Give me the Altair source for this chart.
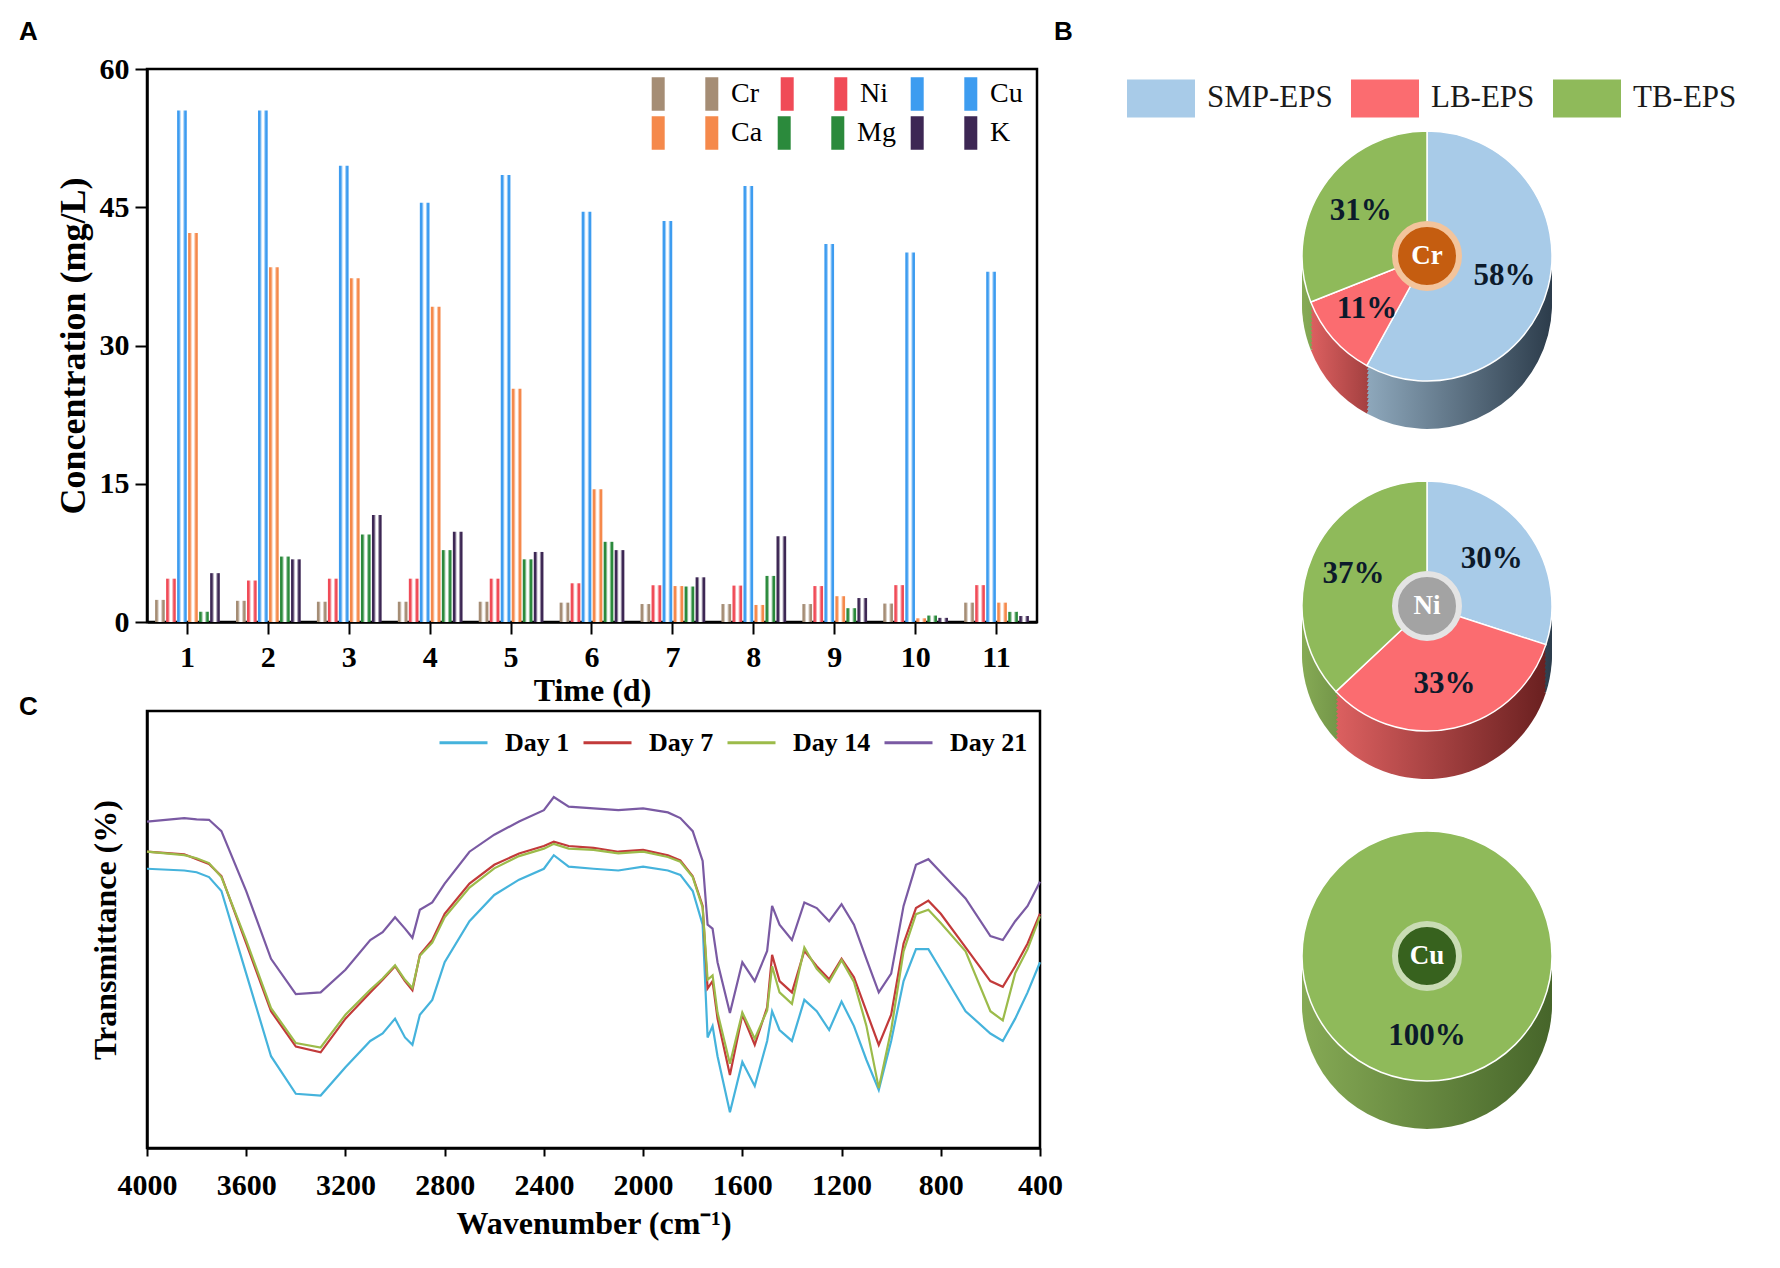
import altair as alt
import pandas as pd

SERIF = "Liberation Serif"
SANS = "Liberation Sans"

# ---------------- Panel A data ----------------
days = [str(d) for d in range(1, 12)]
series = ["Cr", "Ni", "Cu", "Ca", "Mg", "K"]
series_colors = ["#a58d75", "#f04b57", "#3d9cf0", "#f5894b", "#2b8a3c", "#3d2754"]
cr = [2.4, 2.3, 2.2, 2.2, 2.2, 2.1, 1.95, 1.95, 1.95, 2.0, 2.1]
ni = [4.7, 4.5, 4.7, 4.7, 4.7, 4.2, 4.0, 3.95, 3.9, 4.0, 4.0]
cu = [55.5, 55.5, 49.5, 45.5, 48.5, 44.5, 43.5, 47.3, 41.0, 40.1, 38.0]
ca = [42.2, 38.5, 37.3, 34.2, 25.3, 14.4, 3.9, 1.85, 2.8, 0.4, 2.1]
mg = [1.1, 7.1, 9.5, 7.8, 6.8, 8.7, 3.85, 5.0, 1.5, 0.7, 1.1]
k_ = [5.3, 6.8, 11.6, 9.8, 7.6, 7.8, 4.85, 9.3, 2.6, 0.45, 0.65]
conc = {"Cr": cr, "Ni": ni, "Cu": cu, "Ca": ca, "Mg": mg, "K": k_}
y_ticks_a = [0, 15, 30, 45, 60]

# ---------------- Panel B data ----------------
metals = ["Cr", "Ni", "Cu"]
fractions = ["SMP-EPS", "LB-EPS", "TB-EPS"]
smp = [58, 30, 0]
lb = [11, 33, 0]
tb = [31, 37, 100]
top_colors = ["#a8cbe8", "#fb6c70", "#8fba5a"]
side_colors = {"SMP-EPS": ("#8ea8bc", "#2c3c4b"),
               "LB-EPS": ("#dc6060", "#6a2020"),
               "TB-EPS": ("#86aa55", "#46652a")}
badge_inner = ["#c55d10", "#a3a3a3", "#37621e"]
badge_ring = ["#f3c49c", "#e4e4e4", "#c9dcb4"]

# ---------------- Panel C data ----------------
wn = [4000, 3850, 3800, 3750, 3700, 3600, 3500, 3400, 3300, 3200, 3100, 3050, 3000,
      2960, 2930, 2900, 2850, 2800, 2700, 2600, 2500, 2400, 2360, 2300, 2200, 2100,
      2000, 1900, 1850, 1800, 1760, 1740, 1720, 1700, 1650, 1600, 1550, 1500, 1480,
      1450, 1400, 1350, 1300, 1250, 1200, 1150, 1100, 1050, 1000, 950, 900, 850, 800,
      700, 600, 550, 500, 450, 400]
day1 = [63.9, 63.5, 63.1, 62.0, 58.8, 39.9, 21.0, 12.4, 12.0, 18.5, 24.5, 26.2, 29.6,
        25.3, 23.6, 30.5, 33.9, 42.5, 51.9, 57.9, 61.4, 63.9, 67.0, 64.4, 63.9, 63.5,
        64.4, 63.5, 62.5, 58.8, 51.1, 25.3, 27.9, 21.0, 8.2, 19.7, 14.2, 24.5, 31.3,
        27.0, 24.5, 33.9, 31.3, 27.0, 33.5, 27.9, 20.2, 13.3, 24.5, 38.2, 45.5, 45.5,
        40.8, 31.3, 26.2, 24.5, 29.6, 35.6, 42.5]
day7 = [67.8, 67.2, 66.1, 65.0, 62.2, 46.8, 31.3, 23.2, 21.9, 29.6, 35.6, 38.5, 41.6,
        38.2, 36.1, 44.2, 47.6, 53.6, 60.5, 64.8, 67.4, 69.1, 70.1, 69.1, 68.7, 67.8,
        68.2, 67.0, 65.8, 62.2, 55.4, 36.5, 38.2, 29.6, 16.7, 30.5, 23.6, 32.2, 44.2,
        38.2, 35.6, 45.1, 41.6, 38.6, 43.3, 39.1, 31.3, 23.6, 30.5, 46.8, 54.9, 56.6,
        53.6, 45.9, 38.2, 36.9, 41.6, 46.8, 53.6]
day14 = [67.8, 67.0, 66.3, 65.2, 62.0, 47.5, 32.0, 24.0, 23.0, 30.5, 36.2, 38.8, 41.8,
         38.5, 36.6, 44.0, 47.0, 52.8, 59.6, 64.0, 66.8, 68.5, 69.6, 68.5, 68.2, 67.4,
         67.8, 66.6, 65.5, 62.0, 55.0, 38.5, 39.5, 31.0, 19.3, 31.0, 25.0, 31.5, 41.6,
         35.6, 33.0, 45.9, 41.0, 38.0, 43.0, 38.0, 28.0, 13.7, 27.0, 45.0, 53.5, 54.5,
         51.5, 45.0, 31.3, 29.2, 40.0, 45.5, 53.0]
day21 = [74.7, 75.5, 75.2, 75.1, 72.5, 58.8, 43.3, 35.2, 35.6, 40.8, 47.6, 49.4, 52.8,
         50.2, 48.1, 54.5, 56.2, 60.5, 67.8, 71.7, 74.7, 77.3, 80.3, 78.1, 77.7, 77.3,
         77.7, 76.8, 75.5, 72.5, 65.7, 51.1, 50.2, 42.5, 30.9, 42.5, 38.2, 45.1, 55.4,
         51.1, 47.6, 56.2, 54.9, 51.9, 55.8, 51.1, 43.3, 35.6, 39.9, 55.4, 64.8, 66.1,
         63.1, 57.1, 48.5, 47.6, 51.9, 55.4, 60.9]
day_names = ["Day 1", "Day 7", "Day 14", "Day 21"]
day_colors = ["#45b3dc", "#c23a3a", "#9cbb4a", "#7a5aa3"]
wn_ticks = [4000, 3600, 3200, 2800, 2400, 2000, 1600, 1200, 800, 400]

A_W, A_H = 890, 553
C_W, C_H = 893, 437
GAP_AC = 89

# ================= Panel A =================
bar_df = pd.DataFrame([{"day": d, "series": s, "value": conc[s][i]}
                       for s in series for i, d in enumerate(days)])


def edge_gradient(c):
    return alt.LinearGradient(
        gradient="linear", x1=0, x2=1, y1=0, y2=0,
        stops=[alt.GradientStop(color=c, offset=0),
               alt.GradientStop(color=c, offset=0.2),
               alt.GradientStop(color="#ffffff", offset=0.42),
               alt.GradientStop(color="#ffffff", offset=0.58),
               alt.GradientStop(color=c, offset=0.8),
               alt.GradientStop(color=c, offset=1)])


# legend entry placement (3 columns x 2 rows), relative to panel A's plot origin
leg_x = [498, 627, 757, 498, 624, 757]
leg_y = [-15, -15, -15, 24, 24, 24]


def series_legend(i):
    return alt.Legend(title=None, orient="none", legendX=leg_x[i], legendY=leg_y[i],
                      symbolType="M-0.8,-0.5V0.5M0.8,-0.5V0.5", symbolSize=4489,
                      symbolStrokeWidth=13, symbolFillColor="transparent",
                      labelFont=SERIF, labelFontSize=28, labelFontWeight="normal",
                      labelColor="black", labelOffset=6)


xa = alt.X("day:N", sort=days,
           scale=alt.Scale(paddingInner=0.2, paddingOuter=0.1),
           axis=alt.Axis(title="Time (d)", labelAngle=0, labelFontSize=30, titleFontSize=32,
                         tickSize=12, tickWidth=2, domainWidth=2.5, labelPadding=8,
                         titlePadding=3))
xoa = alt.XOffset("series:N", sort=series,
                  scale=alt.Scale(domain=series, paddingInner=0.12))
ya = alt.Y("value:Q", scale=alt.Scale(domain=[0, 60], nice=False),
           axis=alt.Axis(values=y_ticks_a, title="Concentration (mg/L)", titleFontSize=36,
                         labelFontSize=30, tickSize=12, tickWidth=2, domainWidth=2.5,
                         labelPadding=6, titlePadding=7))

bar_layers = []
for i, (s, c) in enumerate(zip(series, series_colors)):
    bar_layers.append(
        alt.Chart(bar_df).transform_filter(alt.datum.series == s)
        .mark_bar(fill=edge_gradient(c), strokeWidth=0)
        .encode(x=xa, xOffset=xoa, y=ya,
                stroke=alt.Stroke("series:N", scale=alt.Scale(domain=[s], range=[c]),
                                  legend=series_legend(i)))
    )

title_kw = dict(anchor="start", frame="group", font=SANS, fontSize=26,
                fontWeight="bold", color="black")
panel_a = alt.layer(*bar_layers).resolve_scale(stroke="independent").properties(
    width=A_W, height=A_H,
    title=alt.TitleParams(text="A", dx=-128, offset=9, **title_kw),
    view=alt.ViewBackground(stroke="black", strokeWidth=2.5),
)

# ================= Panel C =================
ftir_df = pd.DataFrame(
    [{"wn": w, "day": name, "T": vals[i]}
     for name, vals in zip(day_names, [day1, day7, day14, day21])
     for i, w in enumerate(wn)]
)
# legend of a concatenated child is placed relative to the column's origin (panel A)
c_legend = alt.Legend(title=None, orient="none", legendX=291,
                      legendY=A_H + GAP_AC + 30 - 24,
                      direction="horizontal", symbolType="stroke", symbolSize=2304,
                      symbolStrokeWidth=3, labelFont=SERIF, labelFontSize=26,
                      labelFontWeight="bold", labelColor="black", labelOffset=16,
                      columnPadding=7)
panel_c = alt.Chart(ftir_df).mark_line(strokeWidth=2.2).encode(
    x=alt.X("wn:Q", scale=alt.Scale(domain=[400, 4000], reverse=True, nice=False),
            axis=alt.Axis(values=wn_ticks, format="d", title="Wavenumber (cm⁻¹)",
                          labelFontSize=30, titleFontSize=32, tickSize=8, tickWidth=2,
                          domainWidth=2.5, labelPadding=14, titlePadding=8,
                          labelFlush=False)),
    y=alt.Y("T:Q", scale=alt.Scale(domain=[0, 100], nice=False),
            axis=alt.Axis(labels=False, ticks=False, title="Transmittance (%)",
                          titleFontSize=32, domainWidth=2.5, titlePadding=25)),
    color=alt.Color("day:N", sort=day_names,
                    scale=alt.Scale(domain=day_names, range=day_colors), legend=c_legend),
).properties(
    width=C_W, height=C_H,
    title=alt.TitleParams(text="C", dx=-128, offset=-9, **title_kw),
    view=alt.ViewBackground(stroke="black", strokeWidth=2.5),
)

# ================= Panel B =================
shares = [smp, lb, tb]
pie_df = pd.DataFrame([{"metal": m, "fraction": f, "k": j, "pct": shares[j][i]}
                       for i, m in enumerate(metals) for j, f in enumerate(fractions)])
badge_df = pd.DataFrame({"metal": metals})

R = 125
DY = 12
side_offsets = list(range(4, 52, 4))

ypie = alt.Y("metal:N", scale=alt.Scale(type="point", domain=metals, padding=0.5), axis=None)
th = alt.Theta("t0:Q", stack=False, scale=alt.Scale(domain=[0, 100]))
th2 = alt.Theta2("t1:Q")

pie_base = alt.Chart(pie_df).transform_stack(
    stack="pct", groupby=["metal"], as_=["t0", "t1"],
    sort=[alt.SortField("k", order="ascending")])


def side_gradient(c1, c2):
    return alt.LinearGradient(gradient="linear", x1=0, x2=1, y1=0, y2=0,
                              stops=[alt.GradientStop(color=c1, offset=0),
                                     alt.GradientStop(color=c2, offset=1)])


pie_layers = []
for off in reversed(side_offsets):
    for f in fractions:
        c1, c2 = side_colors[f]
        pie_layers.append(
            pie_base.transform_filter(alt.datum.fraction == f)
            .mark_arc(radius=R, yOffset=DY + off, fill=side_gradient(c1, c2), strokeWidth=0)
            .encode(y=ypie, theta=th, theta2=th2)
        )

pie_legend = alt.Legend(title=None, orient="none", legendX=-80, legendY=-5,
                        direction="horizontal", symbolType="M-1,-0.56H1V0.56H-1Z",
                        symbolSize=4624, symbolStrokeWidth=0, labelFont=SERIF,
                        labelFontSize=31, labelColor="#1a1a1a", labelOffset=12,
                        columnPadding=18)
pie_layers.append(
    pie_base.mark_arc(radius=R, yOffset=DY, stroke="white", strokeWidth=1.5).encode(
        y=ypie, theta=th, theta2=th2,
        color=alt.Color("fraction:N", sort=fractions,
                        scale=alt.Scale(domain=fractions, range=top_colors),
                        legend=pie_legend))
)
pie_layers.append(
    pie_base.transform_filter("datum.pct > 0")
    .transform_calculate(tm="(datum.t0 + datum.t1) / 2", label="datum.pct + '%'")
    .mark_text(radius=80, yOffset=DY, font=SERIF, fontSize=31, fontWeight="bold",
               color="#0c1a2b")
    .encode(y=ypie, theta=alt.Theta("tm:Q", stack=False, scale=alt.Scale(domain=[0, 100])),
            text="label:N")
)
pie_layers.append(
    alt.Chart(badge_df).mark_circle(size=4096, yOffset=DY, strokeWidth=6, opacity=1).encode(
        y=ypie,
        fill=alt.Fill("metal:N", scale=alt.Scale(domain=metals, range=badge_inner), legend=None),
        stroke=alt.Stroke("metal:N", scale=alt.Scale(domain=metals, range=badge_ring),
                          legend=None))
)
pie_layers.append(
    alt.Chart(badge_df).mark_text(yOffset=DY, font=SERIF, fontSize=27, fontWeight="bold",
                                  color="white").encode(y=ypie, text="metal:N")
)

panel_b = alt.layer(*pie_layers).properties(
    width=440, height=1050,
    title=alt.TitleParams(text="B", dx=-153, offset=19, **title_kw),
)

left = alt.vconcat(panel_a, panel_c, spacing=GAP_AC, bounds="flush")
chart = alt.hconcat(left, panel_b, spacing=-11).resolve_scale(
    color="independent", stroke="independent", fill="independent"
).properties(
    padding={"left": 9, "top": 9, "right": 5, "bottom": 5}
).configure_view(stroke="transparent").configure_axis(
    labelFont=SERIF, titleFont=SERIF, labelFontWeight="bold", titleFontWeight="bold",
    labelColor="black", titleColor="black", domainColor="black", tickColor="black",
    grid=False,
)

chart.save("out.html", embed_options={"renderer": "svg", "actions": False})
